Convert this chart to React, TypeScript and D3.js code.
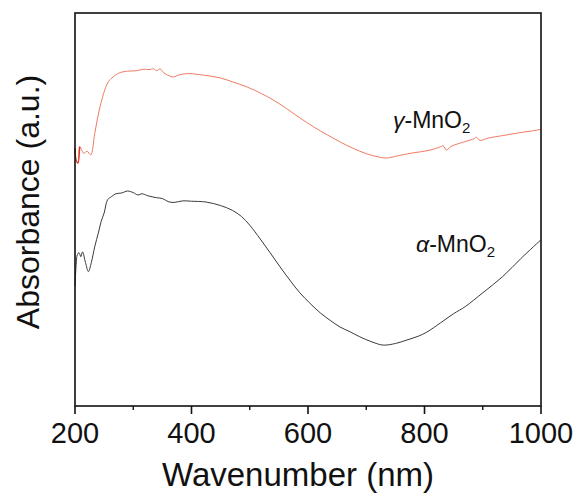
import React from "react";
import * as d3 from "d3";

const gammaX = [200, 202, 205, 208, 212, 215, 221, 227, 234, 243, 256, 263, 275, 290, 305, 318, 327, 335, 340, 346, 352, 362, 368, 380, 395, 403, 425, 449, 470, 495, 520, 540, 563, 586, 610, 633, 655, 677, 700, 720, 735, 755, 780, 806, 825, 832, 838, 845, 870, 885, 889, 895, 910, 934, 966, 985, 1000];
const gammaY = [0.656, 0.625, 0.618, 0.66, 0.65, 0.643, 0.648, 0.639, 0.694, 0.762, 0.822, 0.834, 0.847, 0.852, 0.853, 0.857, 0.856, 0.858, 0.853, 0.858, 0.848, 0.84, 0.837, 0.843, 0.846, 0.845, 0.841, 0.835, 0.825, 0.812, 0.795, 0.779, 0.757, 0.733, 0.71, 0.69, 0.672, 0.656, 0.642, 0.634, 0.631, 0.637, 0.644, 0.65, 0.658, 0.662, 0.651, 0.66, 0.673, 0.68, 0.684, 0.676, 0.682, 0.688, 0.696, 0.7, 0.704];

const alphaX = [200, 202, 204, 207, 210, 213, 218, 223, 228, 234, 240, 245, 250, 256, 263, 270, 280, 290, 300, 308, 315, 325, 340, 350, 360, 370, 385, 400, 425, 450, 470, 486, 500, 518, 535, 552, 570, 586, 603, 621, 638, 655, 672, 689, 710, 729, 750, 770, 790, 804, 827, 850, 870, 900, 934, 966, 1000];
const alphaY = [0.305, 0.36, 0.385, 0.39, 0.38, 0.392, 0.365, 0.342, 0.365, 0.406, 0.44, 0.47, 0.491, 0.525, 0.533, 0.54, 0.542, 0.547, 0.543, 0.537, 0.54, 0.535, 0.53, 0.528, 0.52, 0.518, 0.522, 0.521, 0.519, 0.51, 0.498, 0.482, 0.46, 0.425, 0.39, 0.354, 0.318, 0.288, 0.262, 0.237, 0.218, 0.201, 0.189, 0.176, 0.163, 0.155, 0.159, 0.168, 0.178, 0.188, 0.211, 0.235, 0.253, 0.288, 0.329, 0.376, 0.423];

const xMajorTicks = [200, 400, 600, 800, 1000];
const xMinorTicks = [300, 500, 700, 900];

const W = 583;
const H = 498;
const left = 75;
const right = 541;
const top = 13;
const bottom = 406;
const FONT = "'Liberation Sans', Arial, sans-serif";

export default function App() {
  const x = d3.scaleLinear().domain([200, 1000]).range([left, right]);
  const y = d3.scaleLinear().domain([0, 1]).range([bottom, top]);
  const line = d3
    .line<[number, number]>()
    .x((d) => x(d[0]))
    .y((d) => y(d[1]))
    .curve(d3.curveCatmullRom.alpha(0.5));
  const gamma = gammaX.map((v, i) => [v, gammaY[i]] as [number, number]);
  const alpha = alphaX.map((v, i) => [v, alphaY[i]] as [number, number]);

  return (
    <svg
      width={W}
      height={H}
      style={{ position: "absolute", left: 0, top: 0, background: "#fff" }}
      fontFamily={FONT}
    >
      <path d={line(gamma) || ""} fill="none" stroke="#f07a62" strokeWidth={1} />
      <path d={line(gamma.slice(0, 4)) || ""} fill="none" stroke="#d83a20" strokeWidth={1.3} />
      <path d={line(alpha) || ""} fill="none" stroke="#3a3a3a" strokeWidth={1} />
      <rect
        x={left}
        y={top}
        width={right - left}
        height={bottom - top}
        fill="none"
        stroke="#111"
        strokeWidth={1.6}
      />
      {xMajorTicks.map((t) => (
        <g key={t}>
          <line x1={x(t)} x2={x(t)} y1={bottom} y2={bottom + 8} stroke="#111" strokeWidth={1.6} />
          <text x={x(t)} y={443} fontSize={29} textAnchor="middle" fill="#111">
            {t}
          </text>
        </g>
      ))}
      {xMinorTicks.map((t) => (
        <line key={t} x1={x(t)} x2={x(t)} y1={bottom} y2={bottom + 4} stroke="#111" strokeWidth={1.4} />
      ))}
      <text x={298} y={486} fontSize={33} textAnchor="middle" fill="#111">
        Wavenumber (nm)
      </text>
      <text
        transform={`translate(39,202) rotate(-90)`}
        fontSize={32}
        textAnchor="middle"
        fill="#111"
      >
        Absorbance (a.u.)
      </text>
      <text x={393} y={128} fontSize={23} fill="#111">
        <tspan fontStyle="italic">γ</tspan>-MnO
        <tspan fontSize={15} dy={5}>2</tspan>
      </text>
      <text x={416} y={252} fontSize={23} fill="#111">
        <tspan fontStyle="italic">α</tspan>-MnO
        <tspan fontSize={15} dy={5}>2</tspan>
      </text>
    </svg>
  );
}
